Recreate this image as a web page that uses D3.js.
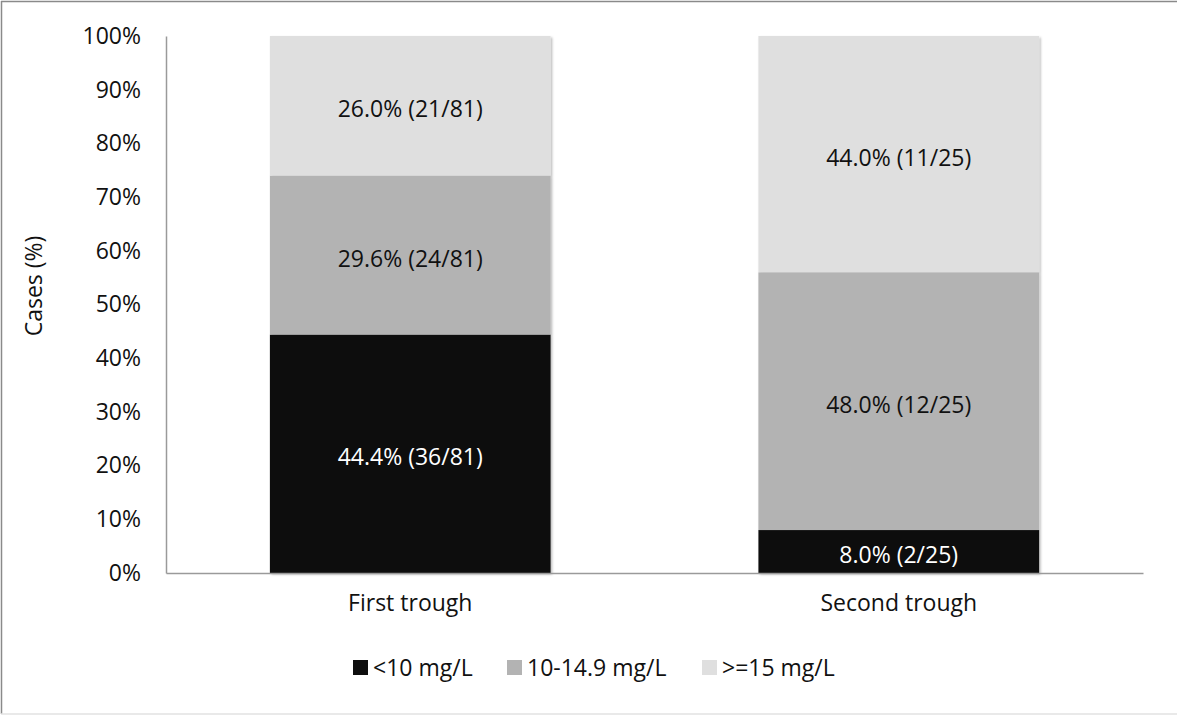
<!DOCTYPE html>
<html>
<head>
<meta charset="utf-8">
<script src="https://cdn.jsdelivr.net/npm/d3@7/dist/d3.min.js"></script>
<style>
  html, body { margin: 0; padding: 0; background: #fff; }
  svg { display: block; font-family: "Open Sans", "Liberation Sans", sans-serif; }
</style>
</head>
<body>
<svg id="chart" width="1177" height="715"></svg>
<script>
// Trough concentration groups per sampling point
const categories = ["First trough", "Second trough"];
const seriesNames = ["<10 mg/L", "10-14.9 mg/L", ">=15 mg/L"];
const pctLow  = [44.4, 8.0];
const pctMid  = [29.6, 48.0];
const pctHigh = [26.0, 44.0];
const countLow  = ["36/81", "2/25"];
const countMid  = ["24/81", "12/25"];
const countHigh = ["21/81", "11/25"];
const yTicks = [0, 10, 20, 30, 40, 50, 60, 70, 80, 90, 100];
const yTitle = "Cases (%)";

const colors = ["#0e0e0e", "#b3b3b3", "#dfdfdf"];
const labelColors = ["#ffffff", "#111111", "#111111"];
const FS = 23;

const svg = d3.select("#chart");
const W = 1177, H = 715;
const plot = { left: 166, right: 1143, top: 36, bottom: 573 };

// chart frame
svg.append("line").attr("x1", 1).attr("y1", 1.5).attr("x2", W).attr("y2", 1.5)
  .attr("stroke", "#8a8a8a").attr("stroke-width", 1.5);
svg.append("line").attr("x1", 1.5).attr("y1", 1).attr("x2", 1.5).attr("y2", H - 1)
  .attr("stroke", "#8a8a8a").attr("stroke-width", 1.5);
svg.append("line").attr("x1", 1).attr("y1", H - 1).attr("x2", W).attr("y2", H - 1)
  .attr("stroke", "#e2e2e2").attr("stroke-width", 1.5);

const defs = svg.append("defs");
const f = defs.append("filter").attr("id", "shadow")
  .attr("x", "-5%").attr("y", "-5%").attr("width", "115%").attr("height", "115%");
f.append("feDropShadow").attr("dx", 1.5).attr("dy", 1.5).attr("stdDeviation", 1.2)
  .attr("flood-color", "#000").attr("flood-opacity", 0.28);

const x = d3.scaleBand().domain(categories).range([plot.left, plot.right])
  .paddingInner(0.4254).paddingOuter(0.2127);
const y = d3.scaleLinear().domain([0, 100]).range([plot.bottom, plot.top]);

// stacked data
const rows = categories.map((c, i) => ({
  cat: c, s0: pctLow[i], s1: pctMid[i], s2: pctHigh[i],
  n0: countLow[i], n1: countMid[i], n2: countHigh[i]
}));
const stack = d3.stack().keys(["s0", "s1", "s2"])(rows);

const barsG = svg.append("g").attr("filter", "url(#shadow)");
stack.forEach((layer, k) => {
  barsG.selectAll(null).data(layer).enter().append("rect")
    .attr("x", d => x(d.data.cat))
    .attr("width", x.bandwidth())
    .attr("y", d => y(d[1]))
    .attr("height", d => y(d[0]) - y(d[1]))
    .attr("fill", colors[k]);
});

// segment labels
stack.forEach((layer, k) => {
  svg.selectAll(null).data(layer).enter().append("text")
    .attr("x", d => x(d.data.cat) + x.bandwidth() / 2)
    .attr("y", d => y((d[0] + d[1]) / 2))
    .attr("dy", "0.5em")
    .attr("text-anchor", "middle")
    .attr("font-size", FS)
    .attr("fill", labelColors[k])
    .text(d => d.data["s" + k].toFixed(1) + "% (" + d.data["n" + k] + ")");
});

// y axis
const yAxis = svg.append("g").attr("transform", `translate(${plot.left},0)`)
  .call(d3.axisLeft(y).tickValues(yTicks).tickFormat(d => d + "%").tickSize(0).tickPadding(25));
yAxis.select(".domain").attr("stroke", "#9a9a9a").attr("stroke-width", 1.5);
yAxis.selectAll("text").attr("font-size", FS).attr("fill", "#111")
  .attr("font-family", "\"Open Sans\", sans-serif");

// x axis
const xAxis = svg.append("g").attr("transform", `translate(0,${plot.bottom})`)
  .call(d3.axisBottom(x).tickSize(0).tickPadding(22));
xAxis.select(".domain").attr("stroke", "#9a9a9a").attr("stroke-width", 1.5);
xAxis.selectAll("text").attr("font-size", FS).attr("fill", "#111")
  .attr("font-family", "\"Open Sans\", sans-serif");

// y axis title
svg.append("text")
  .attr("transform", "translate(42,286) rotate(-90)")
  .attr("text-anchor", "middle")
  .attr("font-size", FS)
  .attr("fill", "#111")
  .text(yTitle);

// legend
const legendX = [353, 507, 702];
const lg = svg.append("g");
seriesNames.forEach((name, i) => {
  lg.append("rect").attr("x", legendX[i]).attr("y", 660).attr("width", 15).attr("height", 15)
    .attr("fill", colors[i]);
  lg.append("text").attr("x", legendX[i] + 20).attr("y", 668).attr("dy", "0.36em")
    .attr("font-size", FS).attr("fill", "#111").text(name);
});
</script>
</body>
</html>
